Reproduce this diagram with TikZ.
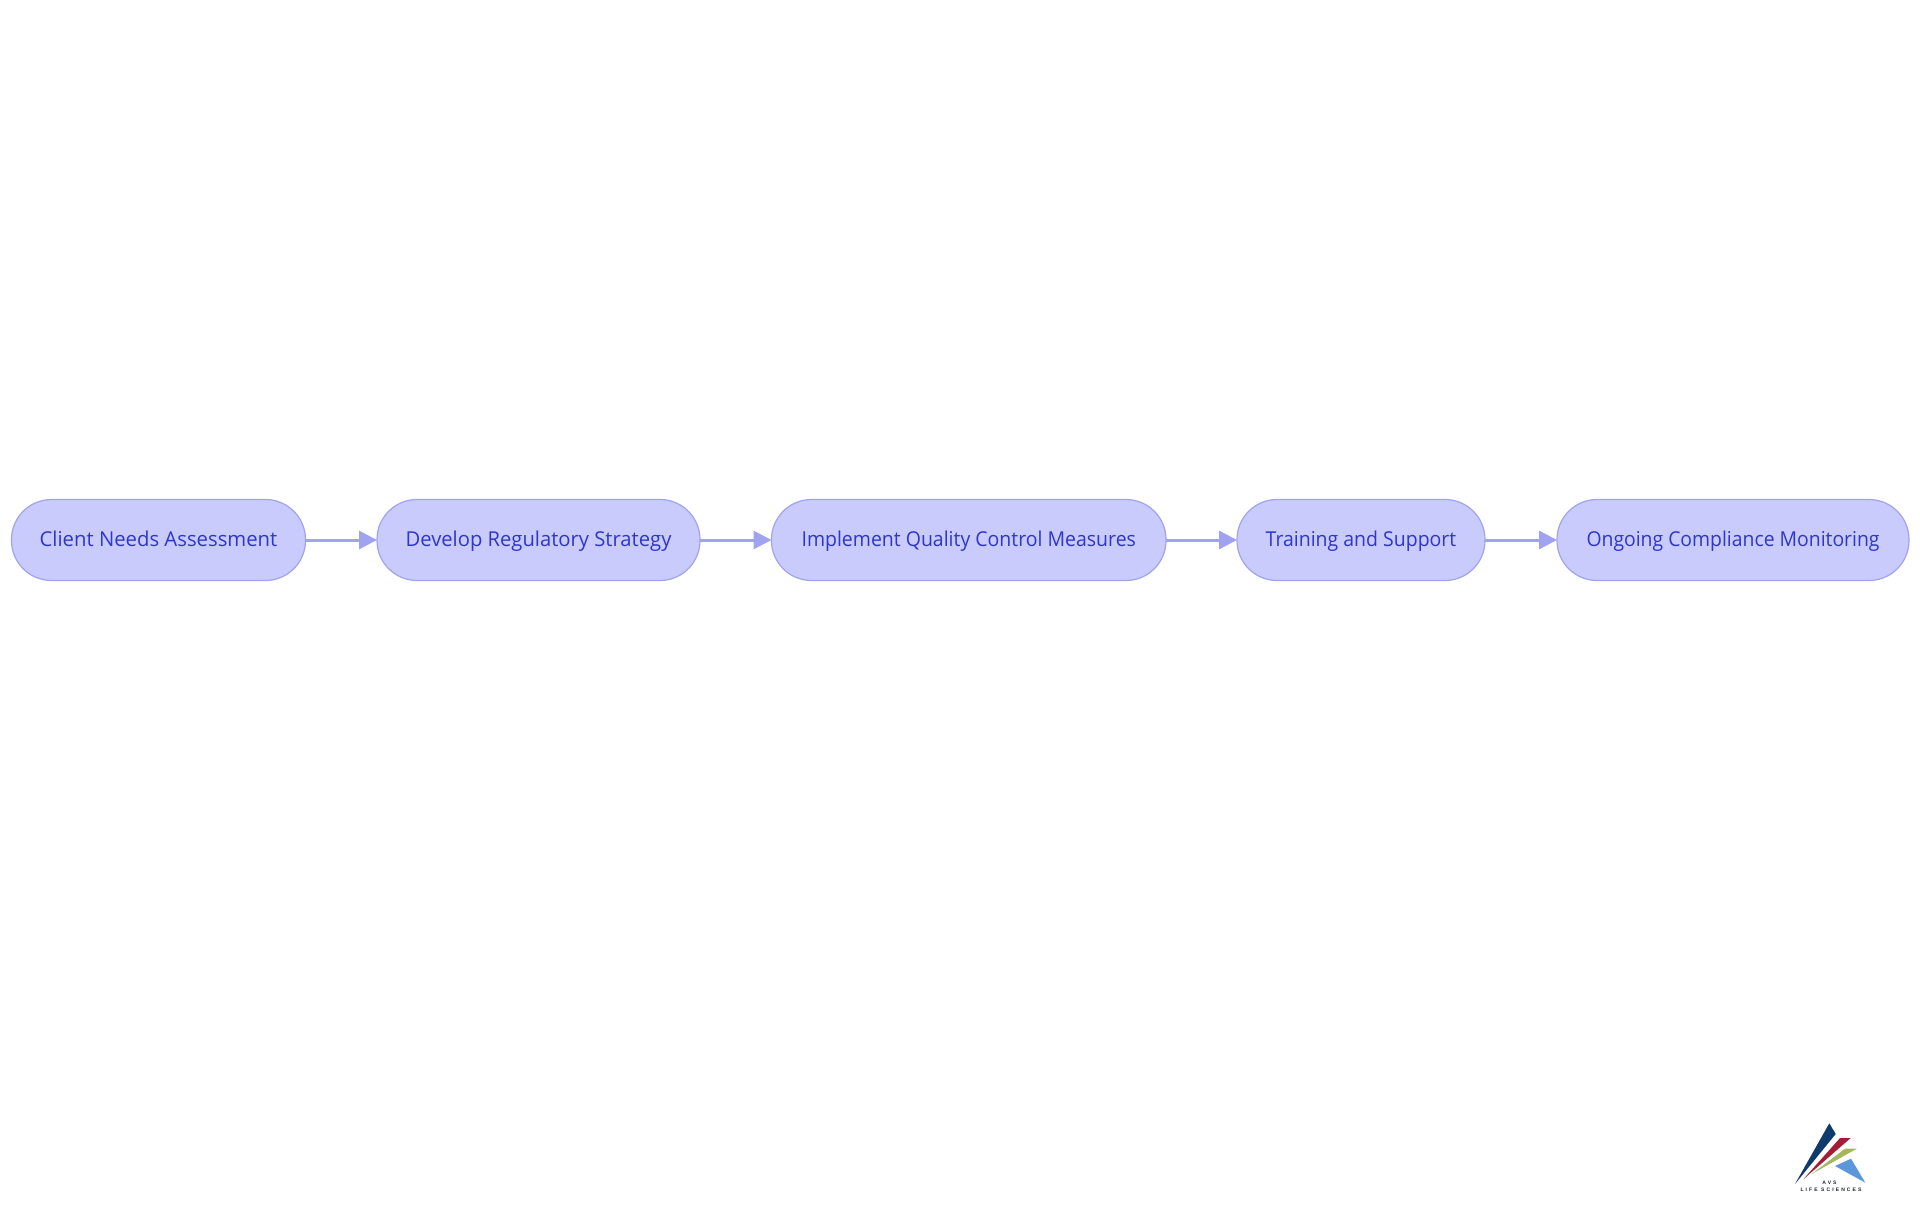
\documentclass[tikz,border=0pt]{standalone}
\usepackage{fontspec}
\usepackage{graphicx}
\setmainfont{Open Sans}
\newfontfamily\logofont[LetterSpace=42]{Liberation Sans Bold}
\usetikzlibrary{arrows.meta}
\definecolor{nodefill}{HTML}{C9CBFD}
\definecolor{nodeline}{HTML}{9FA3F0}
\definecolor{nodetext}{HTML}{2E36CC}
\definecolor{logonavy}{HTML}{0F3A6E}
\definecolor{logored}{HTML}{A51C36}
\definecolor{logogreen}{HTML}{A3B75C}
\definecolor{logoblue}{HTML}{5C97DB}
\definecolor{logotext}{HTML}{1E2430}
\tikzset{
  stepbox/.style={draw=nodeline,line width=1.2pt,fill=nodefill,rounded corners=40pt,
    minimum height=81pt,inner sep=0pt,outer sep=0pt,anchor=west,text=nodetext,
    text height=16pt,text depth=3pt,
    font=\fontsize{20.5}{24}\selectfont},
  flow/.style={draw=nodeline,line width=3pt,-{Triangle[length=18pt,width=18pt]}},
  logotxt/.style={inner sep=0pt,text=logotext,font=\logofont\fontsize{5}{6}\selectfont}
}
\begin{document}
\begin{tikzpicture}[x=1pt,y=-1pt]
\useasboundingbox[fill=white] (0,0) rectangle (1920,1215);
\node[stepbox,minimum width=294pt] (a) at (11.5,540) {\scalebox{0.99}[1]{Client Needs Assessment}};
\node[stepbox,minimum width=323pt] (b) at (377,540) {\scalebox{0.986}[1]{Develop Regulatory Strategy}};
\node[stepbox,minimum width=394.5pt] (c) at (771.5,540) {\scalebox{0.95}[1]{Implement Quality Control Measures}};
\node[stepbox,minimum width=248pt] (d) at (1237,540) {\scalebox{0.95}[1]{Training and Support}};
\node[stepbox,minimum width=352pt] (e) at (1557,540) {\scalebox{0.945}[1]{Ongoing Compliance Monitoring}};
\draw[flow] (a) -- (b);
\draw[flow] (b) -- (c);
\draw[flow] (c) -- (d);
\draw[flow] (d) -- (e);
\fill[logonavy] (1795,1184) -- (1829.3,1123.3) -- (1835.7,1134) -- cycle;
\fill[logored] (1803.3,1179.3) -- (1840,1138) -- (1850.7,1138) -- cycle;
\fill[logogreen] (1811.7,1174) -- (1845,1148.7) -- (1856.7,1148.7) -- cycle;
\fill[logoblue] (1835,1166) -- (1851,1158.7) -- (1865.3,1182.7) -- cycle;
\node[logotxt] (avs) at (1829.5,1182.7) {AVS};
\node[logotxt] (life) at (1831,1189.3) {LIFE SCIENCES};
\end{tikzpicture}
\end{document}
